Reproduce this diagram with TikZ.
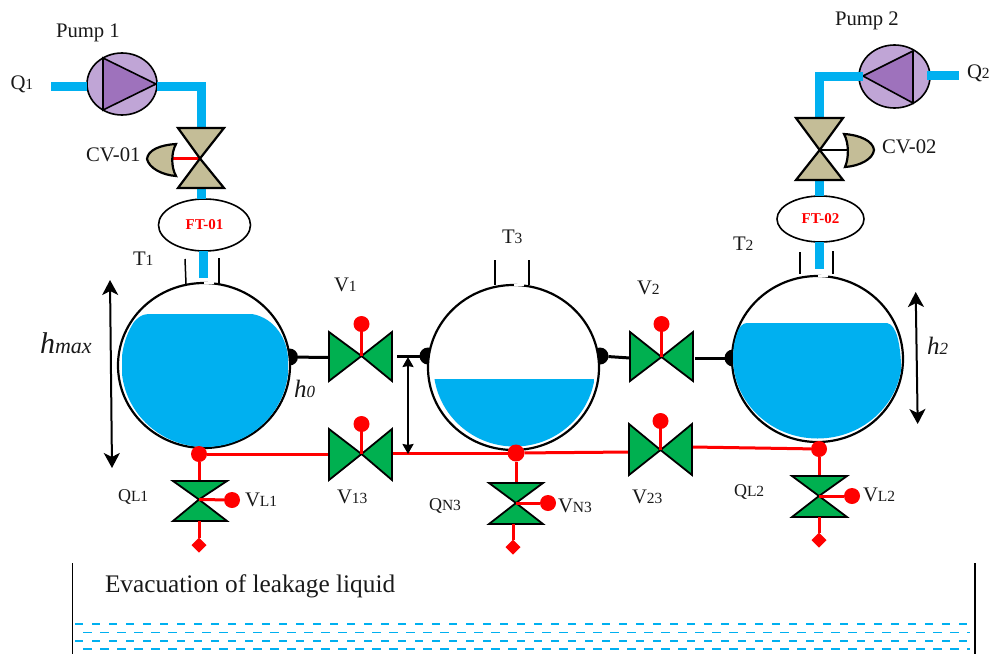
\documentclass[tikz,border=0pt]{standalone}
\usepackage{fontspec}
\setmainfont{Liberation Serif}
\usetikzlibrary{arrows.meta,shapes.geometric}
\definecolor{pipeblue}{HTML}{00B0F0}
\definecolor{valvegreen}{HTML}{00B050}
\definecolor{cvtan}{HTML}{C4BD97}
\definecolor{pumpl}{HTML}{C0A5D6}
\definecolor{pumpd}{HTML}{9E72BC}
\newcommand{\sbs}[1]{{\fontsize{15.5}{15.5}\selectfont #1}}
\newcommand{\fsz}[1]{\fontsize{#1}{#1}\selectfont}
\tikzset{
  lab/.style={anchor=base west,inner sep=0,outer sep=0,font=\fsz{20.7},text=black!90},
  ilab/.style={anchor=base west,inner sep=0,outer sep=0,text=black!90},
  pipe/.style={draw=pipeblue,line width=9pt},
  tankb/.style={ellipse,draw=black,line width=2.2pt,fill=white,inner sep=0,outer sep=0},
  ftb/.style={ellipse,draw=black,line width=1.6pt,fill=white,inner sep=0,outer sep=0,text=red,font=\fsz{15}\bfseries},
  pumpb/.style={ellipse,draw=black,line width=1.6pt,fill=pumpl,inner sep=0,outer sep=0},
  tri/.style={draw=black,line width=1.6pt,fill=pumpd,line join=miter},
  gvalve/.style={draw=black,line width=1.8pt,fill=valvegreen,line join=miter},
  cvalve/.style={draw=black,line width=2.2pt,fill=cvtan,line join=miter},
  redl/.style={draw=red,line width=3pt},
  blackl/.style={draw=black,line width=3pt},
  neck/.style={draw=black,line width=1.5pt},
  rdot/.style={circle,fill=red,inner sep=0,outer sep=0,minimum size=16pt},
  rdotb/.style={circle,fill=red,inner sep=0,outer sep=0,minimum size=17pt},
  bdot/.style={circle,fill=black,inner sep=0,outer sep=0,minimum size=17pt},
  drain/.style={diamond,fill=red,inner sep=0,outer sep=0,minimum size=15pt},
  bigarrow/.style={draw=black,line width=2pt,{Stealth[length=15pt,width=16pt,inset=4pt]}-{Stealth[length=15pt,width=16pt,inset=4pt]}},
  smallarrow/.style={draw=black,line width=2pt,{Stealth[length=10pt,width=11pt,inset=1pt]}-{Stealth[length=10pt,width=11pt,inset=1pt]}},
  wall/.style={draw=black,line width=1.6pt},
}
\begin{document}
\begin{tikzpicture}[x=1pt,y=-1pt]
\useasboundingbox (0,0) rectangle (991,654);

% ---- named points
\coordinate (in1) at (51,86);
\coordinate (c1) at (201,86);
\coordinate (cv1t) at (201,128);
\coordinate (cv1c) at (200,158.5);
\coordinate (cv1b) at (201,188);
\coordinate (t1in) at (203,278);
\coordinate (in2) at (959,75.5);
\coordinate (c2) at (819.5,76);
\coordinate (p2l) at (863,76);
\coordinate (p2r) at (927,75.5);
\coordinate (cv2t) at (819.5,118);
\coordinate (cv2c) at (819.7,150);
\coordinate (cv2b) at (819.5,180);
\coordinate (t2in) at (819.5,269);
\coordinate (a1l) at (329,357.5);
\coordinate (a1r) at (392,356);
\coordinate (a1c) at (361.5,356);
\coordinate (a2l) at (630,358);
\coordinate (a2r) at (693,358);
\coordinate (a2c) at (661.5,357);
\coordinate (a13l) at (329,454);
\coordinate (a13r) at (392,453);
\coordinate (a13c) at (361.5,454);
\coordinate (a23l) at (631,452);
\coordinate (a23r) at (692,447);
\coordinate (a23c) at (660.5,450);
\coordinate (l1t) at (199,481);
\coordinate (l1c) at (199,499.5);
\coordinate (l1b) at (199,521);
\coordinate (l3t) at (516,483);
\coordinate (l3c) at (516,503);
\coordinate (l3b) at (513,524);
\coordinate (l2t) at (819,476);
\coordinate (l2c) at (819,496);
\coordinate (l2b) at (819,517);
\coordinate (ha) at (110,280);
\coordinate (hb) at (112,468);
\coordinate (h2a) at (915.7,292);
\coordinate (h2b) at (917.7,424);
\coordinate (h3a) at (408,357);
\coordinate (h3b) at (408,454);

% ---- balls behind the tanks
\node[bdot] (b1) at (289.5,357) {};
\node[bdot] (b3l) at (428,356) {};
\node[bdot] (b3r) at (600,356) {};
\node[bdot] (b2) at (733,358) {};

% ---- tanks
\node[tankb,minimum width=172pt,minimum height=165pt] (T1) at (204,365.5) {};
\node[tankb,minimum width=171pt,minimum height=165pt] (T3) at (513.5,367.5) {};
\node[tankb,minimum width=171pt,minimum height=166pt] (T2) at (817.5,359) {};

% ---- water
\begin{scope}
  \clip (205,365) ellipse [x radius=83.5,y radius=82];
  \fill[pipeblue] (122,450) -- (122,360) .. controls (122,335) and (135,314) .. (148,314) -- (252,314) .. controls (275,318) and (288,340) .. (288,360) -- (288,450) -- cycle;
\end{scope}
\begin{scope}
  \clip (514.5,366.5) ellipse [x radius=81,y radius=80];
  \fill[pipeblue] (430,379) rectangle (594.5,450);
\end{scope}
\begin{scope}
  \clip (817.5,358) ellipse [x radius=84.5,y radius=80.5];
  \fill[pipeblue] (732,450) -- (732,360) .. controls (733,340) and (738,323) .. (747,323) -- (887,323) .. controls (897,325) and (900,345) .. (901,363) -- (901,450) -- cycle;
\end{scope}

% ---- necks
\draw[neck] (185,259) -- (186,284);
\draw[neck] (219,258) -- (219,284);
\draw[neck] (495,260) -- (495,285);
\draw[neck] (529,260) -- (529,285);
\draw[neck] (800,252) -- (800,274);
\draw[neck] (833,251) -- (833,274);
\draw[white,line width=1.2pt] (204,283) -- (214,283);
\draw[white,line width=1.2pt] (514,285) -- (524,285);
\draw[white,line width=1.2pt] (818,276) -- (828,276);

% ---- pumps
\node[pumpb,minimum width=70pt,minimum height=62pt] (P1) at (122,84) {};
\draw[tri] (103,58) -- (156,84) -- (103,110) -- cycle;
\node[pumpb,minimum width=71pt,minimum height=63pt] (P2) at (894.5,76.5) {};
\draw[tri] (863,76) -- (913,51) -- (913,103) -- cycle;

% ---- flow transmitters
\node[ftb,minimum width=92pt,minimum height=52pt] (FT1) at (204.5,225) {FT-01};
\node[ftb,minimum width=87pt,minimum height=46pt] (FT2) at (820.5,219) {FT-02};

% ---- blue pipes
\draw[pipe] (in1) -- (P1.west |- in1);
\draw[pipe,line join=miter] (P1.east |- c1) -- (c1) -- (cv1t);
\draw[pipe] (cv1b) -- (FT1.north -| cv1b);
\draw[pipe] (FT1.south -| t1in) -- (t1in);
\draw[pipe] (p2r) -- (in2);
\draw[pipe,line join=miter] (p2l) -- (c2) -- (cv2t);
\draw[pipe] (cv2b) -- (FT2.north -| cv2b);
\draw[pipe] (FT2.south -| t2in) -- (t2in);

% ---- control valves
\draw[redl] (172,158.5) -- (cv1c);
\draw[cvalve] (178,128) -- (224,128) -- (cv1c) -- (224,188) -- (178,188) -- (cv1c) -- cycle;
\draw[cvalve] (176,144) .. controls (160,145) and (148,150) .. (147,159) .. controls (149,168) and (162,175) .. (176,176) .. controls (171,167) and (171,153) .. (176,144) -- cycle;
\draw[draw=black,line width=2pt] (cv2c) -- (848,150);
\draw[cvalve] (796,118) -- (843,118) -- (cv2c) -- (843,180) -- (796,180) -- (cv2c) -- cycle;
\draw[cvalve] (844,134) .. controls (860,135) and (873,141) .. (874,150) .. controls (873,159) and (860,166) .. (845,167) .. controls (849,158) and (849,143) .. (844,134) -- cycle;

% ---- black connecting lines
\draw[blackl] (b1) -- (a1l);
\draw[blackl] (a1r |- b3l) ++(5,0) -- (b3l);
\draw[blackl] (b3r) -- (a2l);
\draw[blackl] (695,358) -- (b2);

% ---- red lines
\node[rdot] (j1) at (199,454) {};
\node[rdotb] (j3) at (516,453) {};
\node[rdot] (j2) at (819,449) {};
\draw[redl] (j1) -- (a13l);
\draw[redl] (a13r) -- (j3);
\draw[redl] (j3) -- (a23l);
\draw[redl] (a23r) -- (j2);
\draw[redl] (j1) -- (l1t);
\draw[redl] (j3) -- (l3t);
\draw[redl] (j2) -- (l2t);

% ---- hand valves between tanks
\node[rdot] (k1) at (361.5,324) {};
\node[rdot] (k2) at (661.5,324) {};
\node[rdot] (k13) at (361.5,424) {};
\node[rdot] (k23) at (660.5,421) {};
\draw[gvalve] (329,332) -- (a1c) -- (392,332) -- (392,381) -- (a1c) -- (329,381) -- cycle;
\draw[gvalve] (630,332) -- (a2c) -- (693,332) -- (693,381) -- (a2c) -- (630,381) -- cycle;
\draw[gvalve] (329,429) -- (a13c) -- (392,429) -- (392,480) -- (a13c) -- (329,480) -- cycle;
\draw[gvalve] (629,424) -- (a23c) -- (692,424) -- (692,475) -- (a23c) -- (629,475) -- cycle;
\draw[redl] (k1) -- (a1c);
\draw[redl] (k2) -- (a2c);
\draw[redl] (k13) -- (a13c);
\draw[redl] (k23) -- (a23c);

% ---- leak valves
\draw[gvalve] (173,481) -- (227,481) -- (l1c) -- (227,521) -- (173,521) -- (l1c) -- cycle;
\draw[gvalve] (489,483) -- (543,483) -- (l3c) -- (543,524) -- (489,524) -- (l3c) -- cycle;
\draw[gvalve] (792,476) -- (847,476) -- (l2c) -- (847,517) -- (792,517) -- (l2c) -- cycle;
\node[rdot] (m1) at (232,500) {};
\node[rdot] (m3) at (548,503) {};
\node[rdot] (m2) at (852,496) {};
\draw[redl] (l1c) -- (m1);
\draw[redl] (l3c) -- (m3);
\draw[redl] (l2c) -- (m2);
\node[drain] (d1) at (199,545) {};
\node[drain] (d3) at (513,547) {};
\node[drain] (d2) at (819,540) {};
\draw[redl] (l1b) -- (d1);
\draw[redl] (l3b) -- (d3);
\draw[redl] (l2b) -- (d2);

% ---- level arrows
\draw[bigarrow] (ha) -- (hb);
\draw[bigarrow] (h2a) -- (h2b);
\draw[smallarrow] (h3a) -- (h3b);

% ---- basin
\draw[wall] (72.5,563) -- (72.5,654);
\draw[wall] (975,563) -- (975,654);
\draw[draw=pipeblue,line width=2pt,dash pattern=on 8pt off 9pt] (75,624) -- (970,624);
\draw[draw=pipeblue,line width=1.3pt,dash pattern=on 9pt off 8pt] (83,632.5) -- (970,632.5);
\draw[draw=pipeblue,line width=2pt,dash pattern=on 8pt off 9pt] (75,641) -- (970,641);
\draw[draw=pipeblue,line width=1.3pt,dash pattern=on 9pt off 8pt] (83,649) -- (970,649);

% ---- labels
\node[lab] (lp1) at (56,37) {Pump 1};
\node[lab] (lp2) at (835,25) {Pump 2};
\node[lab] (lq1) at (10.5,89) {Q\sbs{1}};
\node[lab] (lq2) at (967,78) {Q\sbs{2}};
\node[lab] (lcv1) at (86,161) {CV-01};
\node[lab] (lcv2) at (882,153) {CV-02};
\node[lab] (lt1) at (133,265) {T\sbs{1}};
\node[lab] (lt3) at (502,243) {T\sbs{3}};
\node[lab] (lt2) at (733,250) {T\sbs{2}};
\node[lab] (lv1) at (334,291) {V\sbs{1}};
\node[lab] (lv2) at (637,294) {V\sbs{2}};
\node[lab] (lv13) at (337,503) {V\sbs{13}};
\node[lab] (lv23) at (632,503) {V\sbs{23}};
\node[lab] (lql1) at (118,501) {{\fsz{18}Q}\sbs{L1}};
\node[lab] (lqn3) at (429,510) {{\fsz{18}Q}\sbs{N3}};
\node[lab] (lql2) at (734,496) {{\fsz{18}Q}\sbs{L2}};
\node[lab] (lvl1) at (245,506) {V\sbs{L1}};
\node[lab] (lvn3) at (558,512) {V\sbs{N3}};
\node[lab] (lvl2) at (863,501) {V\sbs{L2}};
\node[ilab] (lhmax) at (40,353) {\fsz{30}\itshape h{\fsz{22}max}};
\node[ilab] (lh0) at (294,397) {\fsz{25}\itshape h{\fsz{17}0}};
\node[ilab] (lh2) at (927,354) {\fsz{25}\itshape h{\fsz{17}2}};
\node[lab,font=\fsz{25.3}] (lev) at (105,592) {Evacuation of leakage liquid};
\end{tikzpicture}
\end{document}
